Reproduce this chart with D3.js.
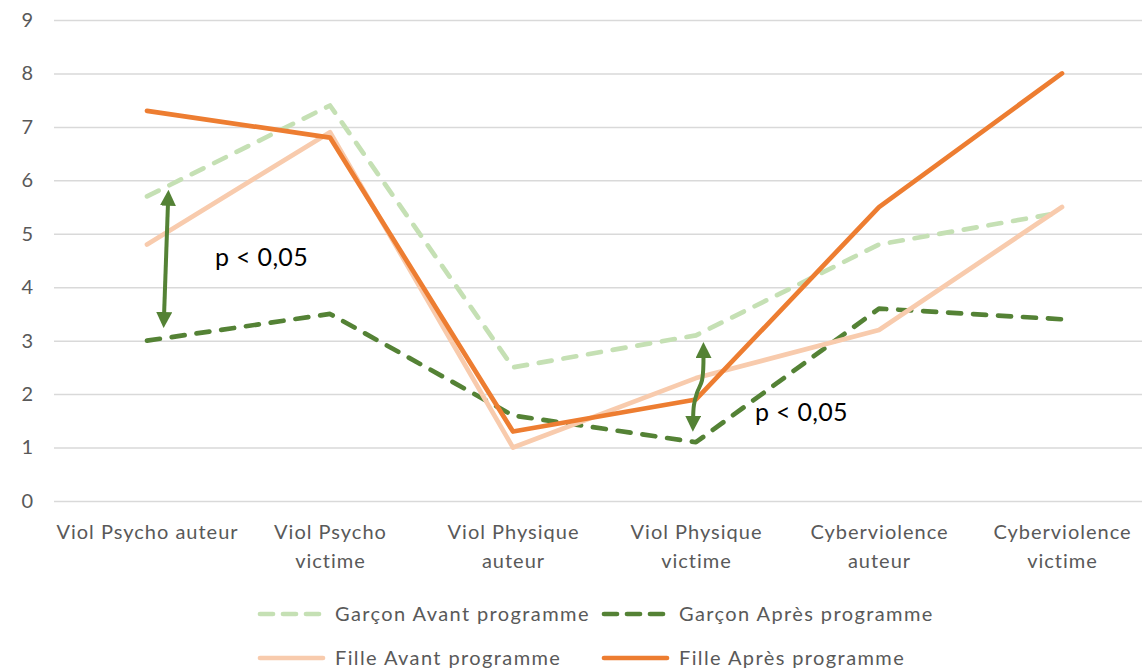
<!DOCTYPE html>
<html lang="fr">
<head>
<meta charset="UTF-8" />
<title>Violences avant / après programme</title>
<style>
  body { margin: 0; background: #fff; }
  svg text { font-family: Lato, "Noto Sans", sans-serif; }
</style>
</head>
<body>
<script src="https://cdn.jsdelivr.net/npm/d3@7"></script>
<div id="app"></div>
<script>
// categories (lignes des libellés d'axe)
const categories = [
  ["Viol Psycho auteur"],
  ["Viol Psycho", "victime"],
  ["Viol Physique", "auteur"],
  ["Viol Physique", "victime"],
  ["Cyberviolence", "auteur"],
  ["Cyberviolence", "victime"]
];
const catKeys = categories.map(c => c.join(" "));

// séries
const garconAvant = [5.7, 7.4, 2.5, 3.1, 4.8, 5.4];
const garconApres = [3.0, 3.5, 1.6, 1.1, 3.6, 3.4];
const filleAvant  = [4.8, 6.9, 1.0, 2.3, 3.2, 5.5];
const filleApres  = [7.3, 6.8, 1.3, 1.9, 5.5, 8.0];

const yTicks = [0, 1, 2, 3, 4, 5, 6, 7, 8, 9];

// annotations (index de catégorie fractionnaire, valeur)
const arrow1 = [[0.115, 5.60], [0.093, 3.46]];
const arrow2 = [[3.041, 2.75], [3.033, 2.26], [3.005, 2.02], [2.989, 1.80], [2.984, 1.52]];
const notes = [
  { text: "p < 0,05", i: 0.372, v: 4.57 },
  { text: "p < 0,05", i: 3.322, v: 1.67 }
];

const series = [
  { name: "Garçon Avant programme", values: garconAvant, color: "#C5E0B4", dash: "13,12" },
  { name: "Garçon Après programme", values: garconApres, color: "#548235", dash: "13,12" },
  { name: "Fille Avant programme",  values: filleAvant,  color: "#F8CBAD", dash: null },
  { name: "Fille Après programme",  values: filleApres,  color: "#ED7D31", dash: null }
];

const w = 1142, h = 670;
const padLeft = 54, padTop = 20, padBottom = 501;

const svg = d3.select("#app").append("svg")
  .attr("width", w).attr("height", h);

const x = d3.scalePoint().domain(catKeys).range([55.5, 1153.5]).padding(0.5);
const xi = d3.scaleLinear().domain([0, 5]).range([x(catKeys[0]), x(catKeys[5])]);
const y = d3.scaleLinear().domain([0, 9]).range([padBottom, padTop]);

// grille + axe Y
const yAxis = d3.axisLeft(y).tickValues(yTicks).tickSize(-(w - padLeft + 20)).tickPadding(21);
const gy = svg.append("g").attr("transform", "translate(" + padLeft + ",0)").call(yAxis);
gy.select(".domain").remove();
gy.selectAll(".tick line").attr("stroke", "#D9D9D9").attr("stroke-width", 1.5);
gy.selectAll(".tick text").attr("fill", "#595959").style("font-size", "20px");

// axe X
const xAxis = d3.axisBottom(x).tickSize(0).tickFormat("");
const gx = svg.append("g").attr("transform", "translate(0," + padBottom + ")").call(xAxis);
gx.select(".domain").remove();
gx.selectAll(".tick").each(function(d, i) {
  const t = d3.select(this).append("text")
    .attr("fill", "#595959").attr("text-anchor", "middle")
    .style("font-size", "20px").style("letter-spacing", "1px");
  categories[i].forEach((line, k) => {
    t.append("tspan").attr("x", 0).attr("y", 38 + k * 29).text(line);
  });
});

// lignes
const line = d3.line().x((d, i) => x(catKeys[i])).y(d => y(d));
svg.append("g").selectAll("path").data(series).enter().append("path")
  .attr("d", d => line(d.values))
  .attr("fill", "none")
  .attr("stroke", d => d.color)
  .attr("stroke-width", 4.7)
  .attr("stroke-linecap", "round")
  .attr("stroke-linejoin", "round")
  .attr("stroke-dasharray", d => d.dash);

// flèches
svg.append("defs").append("marker")
  .attr("id", "head").attr("viewBox", "0 0 4 4")
  .attr("refX", 1).attr("refY", 2)
  .attr("markerWidth", 4).attr("markerHeight", 4)
  .attr("orient", "auto-start-reverse")
  .append("path").attr("d", "M0,0 L4,2 L0,4 Z").attr("fill", "#548235");

const arrowLine = d3.line().x(d => xi(d[0])).y(d => y(d[1])).curve(d3.curveCatmullRom);
svg.append("g").selectAll("path").data([arrow1, arrow2]).enter().append("path")
  .attr("d", arrowLine)
  .attr("fill", "none").attr("stroke", "#548235").attr("stroke-width", 4)
  .attr("marker-start", "url(#head)").attr("marker-end", "url(#head)");

svg.append("g").selectAll("text").data(notes).enter().append("text")
  .attr("x", d => xi(d.i)).attr("y", d => y(d.v)).attr("dy", "0.36em")
  .style("font-size", "25px").style("letter-spacing", "0.3px").attr("fill", "#000")
  .text(d => d.text);

// légende
const legendPos = [[258, 614], [602, 614], [258, 658], [602, 658]];
const lg = svg.append("g").selectAll("g").data(series).enter().append("g")
  .attr("transform", (d, i) => "translate(" + legendPos[i][0] + "," + legendPos[i][1] + ")");
lg.append("line")
  .attr("x1", 2).attr("x2", 65).attr("y1", 0).attr("y2", 0)
  .attr("stroke", d => d.color).attr("stroke-width", 4.7)
  .attr("stroke-linecap", "round")
  .attr("stroke-dasharray", d => d.dash ? "13,10" : null);
lg.append("text")
  .attr("x", 77).attr("y", 0).attr("dy", "0.36em")
  .attr("fill", "#595959").style("font-size", "20px").style("letter-spacing", "1.4px")
  .text(d => d.name);
</script>
</body>
</html>
